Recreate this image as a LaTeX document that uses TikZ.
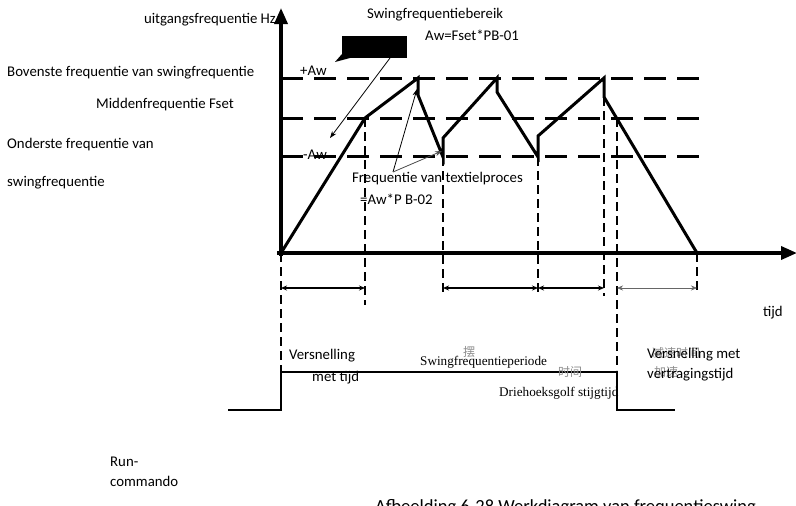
\documentclass[tikz,border=0pt]{standalone}
\usepackage{fontspec}
\setmainfont{Carlito}
\newfontfamily\timesfont{Liberation Serif}
\newfontfamily\cjkfont{Noto Sans CJK SC}
\usetikzlibrary{arrows.meta}
\begin{document}
\begin{tikzpicture}[x=1pt,y=-1pt,
  lbl/.style={inner sep=0pt,anchor=west,font=\fontsize{14.8}{16}\selectfont},
  serifl/.style={inner sep=0pt,anchor=west,font=\timesfont\fontsize{13.2}{15}\selectfont},
  ghost/.style={inner sep=0pt,anchor=west,text=black!45,font=\cjkfont\fontsize{12}{14}\selectfont},
  axis/.style={line width=3.5pt,-{Triangle[length=16pt,width=13pt]}},
  level/.style={line width=3pt,dash pattern=on 22pt off 11pt},
  marker/.style={line width=2.4pt,dash pattern=on 9pt off 5pt},
  wave/.style={line width=3pt,line join=miter},
  span/.style={line width=1.2pt,{Stealth[length=6pt,width=5pt]}-{Stealth[length=6pt,width=5pt]}},
  thinspan/.style={line width=0.6pt,black!60,{Stealth[length=6pt,width=5pt]}-{Stealth[length=6pt,width=5pt]}},
  pointer/.style={line width=0.8pt,-{Stealth[length=7pt,width=5pt]}},
]
\useasboundingbox (0,0) rectangle (796,506);
\clip (0,0) rectangle (796,506);

% key points of the frequency curve
\coordinate (O) at (281,253);
\coordinate (A1) at (365,118);
\coordinate (P1) at (418,78);
\coordinate (P1b) at (418,95);
\coordinate (V1) at (443,157);
\coordinate (V1b) at (443,138);
\coordinate (P2) at (497,78);
\coordinate (P2b) at (497,92);
\coordinate (V2) at (538,157);
\coordinate (V2b) at (538,136);
\coordinate (P3) at (604,78);
\coordinate (P3b) at (604,97);
\coordinate (S) at (697,253);
\coordinate (M) at (617,118);

% frequency levels
\draw[level] (281,78) coordinate (Lt) -- (707,78);
\draw[level] (281,118) coordinate (Lm) -- (707,118);
\draw[level] (281,156) coordinate (Lb) -- (707,156);

% time markers
\draw[marker] (O) -- (281,372);
\draw[marker] (A1) -- (365,305) coordinate (A1d);
\draw[marker] (V1) -- (443,296) coordinate (V1d);
\draw[marker] (V2) -- (538,296) coordinate (V2d);
\draw[marker] (P3b) -- (604,296) coordinate (P3d);
\draw[marker] (M) -- (617,370);
\draw[marker] (S) -- (697,293) coordinate (Sd);

% axes
\draw[axis] (281,256) -- (281,8) coordinate (Ytip);
\draw[axis] (277,253) -- (797,253) coordinate (Xtip);

% output frequency curve
\draw[wave] (O) -- (A1) -- (P1) -- (P1b) -- (V1) -- (V1b) -- (P2) -- (P2b)
  -- (V2) -- (V2b) -- (P3) -- (P3b) -- (S);

% time spans
\coordinate (s0) at (281,288);
\coordinate (s1) at (365,288);
\coordinate (s2) at (443,288);
\coordinate (s3) at (538,288);
\coordinate (s4) at (604,288);
\coordinate (s5) at (617,288);
\coordinate (s6) at (697,288);
\draw[span] (s0) -- (s1);
\draw[span] (s2) -- (s3);
\draw[span] (s3) -- (s4);
\draw[thinspan] (s5) -- (s6);

% run command
\draw[line width=2.5pt] (228,410) coordinate (R0) -- (281,410) -- (281,372) -- (617,372) -- (617,410) -- (675,410) coordinate (R1);

% swing range callout
\node[fill=black,minimum width=65pt,minimum height=22pt,inner sep=0pt] (box) at (374.5,47) {};
\fill (box.south west) ++(0,-4) -- (335,62) -- (350,58) -- cycle;
\coordinate (boxtip) at (390,58);
\coordinate (rangeend) at (330,138);
\draw[pointer] (boxtip) -- (rangeend);

% textile step pointers
\coordinate (tx) at (393,172);
\coordinate (tx1) at (417,89);
\coordinate (tx2) at (442,151);
\draw[pointer] (tx) -- (tx1);
\draw[pointer,black!70] (tx) -- (tx2);

% labels
\node[inner sep=0pt,anchor=east,font=\fontsize{14.8}{16}\selectfont] (ylab) at (276,20) {uitgangsfrequentie Hz};
\node[lbl] (rng) at (367,15) {Swingfrequentiebereik};
\node[lbl] (rngf) at (425,35) {Aw=Fset*PB-01};
\node[lbl] (paw) at (300,71) {+Aw};
\node[lbl] (maw) at (303,155) {-Aw};
\node[lbl] (top) at (7,73) {Bovenste frequentie van swingfrequentie};
\node[lbl] (mid) at (96,105) {Middenfrequentie Fset};
\node[lbl] (low1) at (7,145) {Onderste frequentie van};
\node[lbl] (low2) at (7,183) {swingfrequentie};
\node[lbl] (tex1) at (352,179) {Frequentie van textielproces};
\node[lbl] (tex2) at (360,199) {=Aw*P B-02};
\node[lbl] (tijd) at (763,313) {tijd};
\node[lbl] (acc1) at (289,356) {Versnelling};
\node[lbl] (acc2) at (312,378) {met tijd};
\node[ghost] (zh1) at (463,352) {摆};
\node[serifl] (per) at (420,362) {Swingfrequentieperiode};
\node[ghost] (zh2) at (558,372) {时间};
\node[serifl] (tri) at (499,393) {Driehoeksgolf stijgtijd};
\node[ghost] (zh3) at (652,353) {减速时间};
\node[ghost] (zh4) at (654,372) {加速};
\node[lbl] (dec1) at (647,355) {Versnelling met};
\node[lbl] (dec2) at (647,375) {vertragingstijd};
\node[lbl] (run1) at (110,462) {Run-};
\node[lbl] (run2) at (110,481) {commando};
\node[inner sep=0pt,anchor=west,font=\fontsize{18.5}{20}\selectfont] (cap) at (375,508) {Afbeelding 6-28 Werkdiagram van frequentieswing};
\end{tikzpicture}
\end{document}
